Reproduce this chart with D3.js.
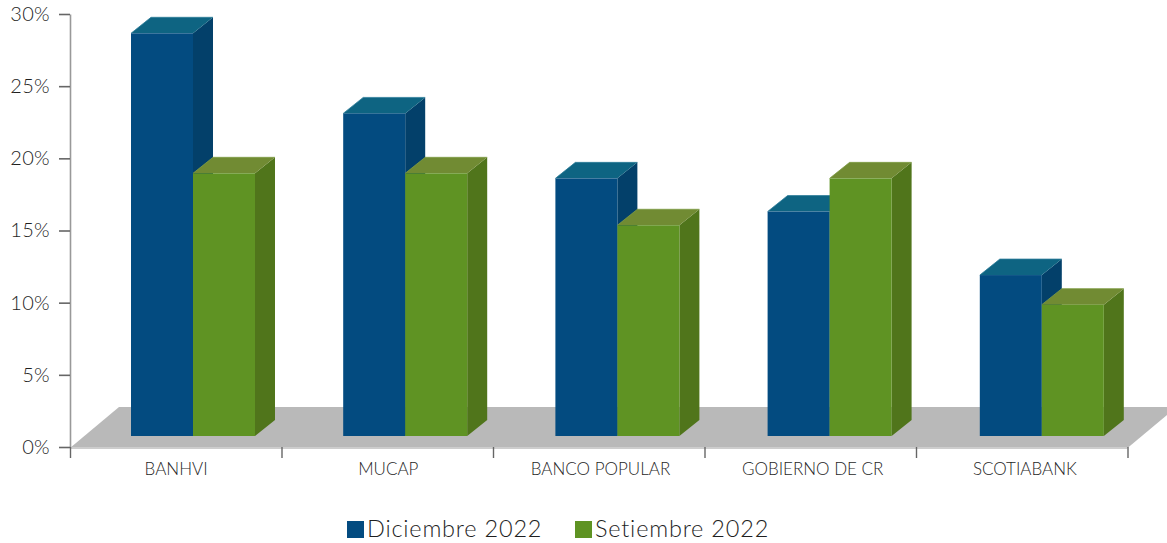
<!DOCTYPE html>
<html>
<head>
  <title>Bancos</title>
  <script src="https://d3js.org/d3.v7.min.js"></script>
  <style>
    body { margin: 0; background: #fff; }
    svg { display: block; }
    text { font-family: "Lato", sans-serif; font-weight: 300; fill: #1f1f1f; }
  </style>
</head>
<body>
  <svg id="chart" width="1167" height="543"></svg>

  <script>
    const categories = ["BANHVI", "MUCAP", "BANCO POPULAR", "GOBIERNO DE CR", "SCOTIABANK"];
    const seriesNames = ["Diciembre 2022", "Setiembre 2022"];
    const diciembre = [27.9, 22.35, 17.85, 15.55, 11.15];
    const setiembre = [18.2, 18.2, 14.6, 17.85, 9.1];
    const yTicks = [0, 5, 10, 15, 20, 25, 30];

    const faces = [
      { front: "#034b80", side: "#03406a", top: "#0e6482", edge: "#2f7d99" },
      { front: "#5f9323", side: "#50751b", top: "#718b33", edge: "#7f9c45" }
    ];

    const svg = d3.select("#chart");

    // bars sit on a slightly wider step than the axis ticks
    const x = d3.scaleBand().domain(categories).range([70, 1131]);
    const xInner = d3.scaleBand().domain(seriesNames).range([61, 185]);
    const xEdges = d3.scaleLinear().domain([0, categories.length]).range([70, 1127.5]);
    const y = d3.scaleLinear().domain([0, 30]).range([447, 14]);

    // 3d offsets
    const barDx = 20, barDy = 16, barLift = 11;
    const floorDx = 49, floorDy = 40;

    // floor
    svg.append("path")
      .attr("fill", "#b9b9b9")
      .attr("d", d3.line()([
        [xEdges.range()[0], y(0) + 1],
        [xEdges.range()[0] + floorDx, y(0) - floorDy],
        [xEdges.range()[1] + floorDx, y(0) - floorDy],
        [xEdges.range()[1], y(0) + 1]
      ]) + "Z");
    svg.append("line")
      .attr("x1", xEdges.range()[0]).attr("x2", xEdges.range()[1])
      .attr("y1", y(0) + 1).attr("y2", y(0) + 1)
      .attr("stroke", "#cdcdcd").attr("stroke-width", 2);

    // axes
    const yAxis = svg.append("g")
      .attr("transform", "translate(70,0)")
      .call(d3.axisLeft(y).tickValues(yTicks).tickFormat(d => d + "%").tickSize(11).tickSizeOuter(0));
    yAxis.select(".domain").attr("stroke", "#999").attr("stroke-width", 1.6);
    yAxis.selectAll(".tick line").attr("stroke", "#666").attr("stroke-width", 1.6);
    yAxis.selectAll(".tick text")
      .attr("x", -20).attr("dy", "0.32em")
      .style("font-size", "20px").style("letter-spacing", "0.3px");

    const xAxis = svg.append("g")
      .attr("transform", "translate(0," + y(0) + ")")
      .call(d3.axisBottom(xEdges).ticks(categories.length).tickFormat("").tickSize(11).tickSizeOuter(0));
    xAxis.select(".domain").remove();
    xAxis.selectAll(".tick line").attr("stroke", "#666").attr("stroke-width", 1.4);

    svg.append("g").selectAll("text")
      .data(categories)
      .join("text")
      .attr("x", d => x(d) + x.bandwidth() / 2)
      .attr("y", y(0) + 28)
      .attr("text-anchor", "middle")
      .style("font-size", "17px")
      .text(d => d);

    // bars
    const allValues = [diciembre, setiembre];
    categories.forEach((cat, i) => {
      seriesNames.forEach((name, s) => {
        const v = allValues[s][i];
        const left = x(cat) + xInner(name);
        const right = left + xInner.bandwidth();
        const topY = y(v) - barLift;
        const base = y(0) - barLift;
        const c = faces[s];
        const g = svg.append("g");

        g.append("path").attr("fill", c.side).attr("d", d3.line()([
          [right, topY], [right + barDx, topY - barDy],
          [right + barDx, base - barDy], [right, base]
        ]) + "Z");
        g.append("path").attr("fill", c.top).attr("d", d3.line()([
          [left, topY], [left + barDx, topY - barDy],
          [right + barDx, topY - barDy], [right, topY]
        ]) + "Z");
        g.append("path").attr("fill", "none").attr("stroke", c.edge).attr("stroke-width", 0.8)
          .attr("d", d3.line()([[left, topY], [left + barDx, topY - barDy], [right + barDx, topY - barDy]]));
        g.append("rect")
          .attr("x", left).attr("y", topY)
          .attr("width", xInner.bandwidth()).attr("height", base - topY)
          .attr("fill", c.front);
      });
    });

    // legend
    const legendX = d3.scalePoint().domain(seriesNames).range([347, 575]);
    const legend = svg.append("g").selectAll("g")
      .data(seriesNames)
      .join("g")
      .attr("transform", d => "translate(" + legendX(d) + ",521)");
    legend.append("rect")
      .attr("width", 17).attr("height", 17)
      .attr("fill", (d, i) => faces[i].front);
    legend.append("text")
      .attr("x", 20).attr("y", 15.5)
      .style("font-size", "23.5px").style("letter-spacing", "0.8px")
      .text(d => d);
  </script>
</body>
</html>
